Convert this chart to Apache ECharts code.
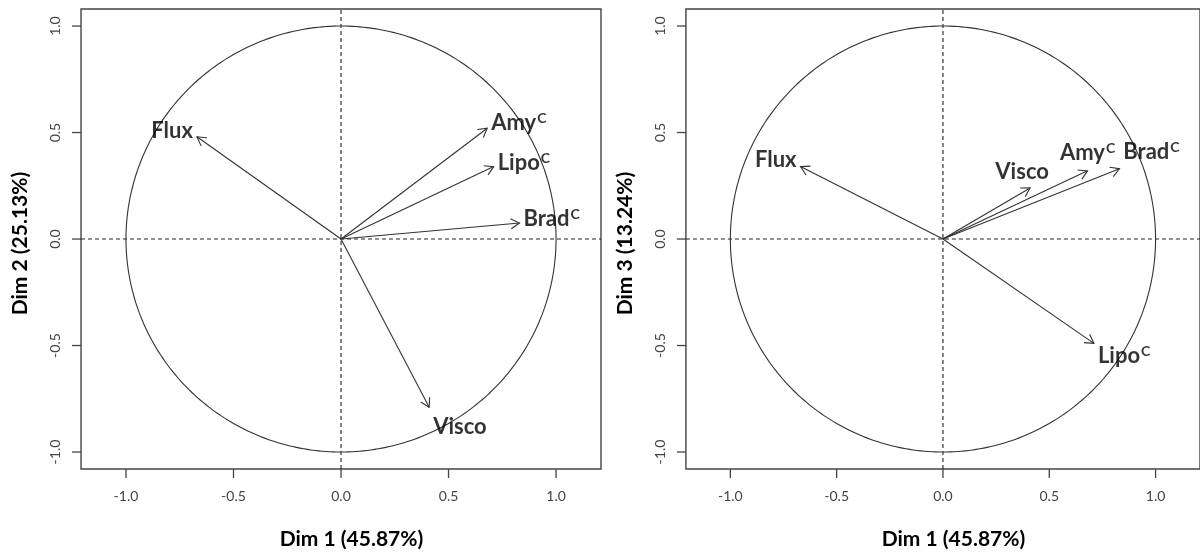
<!DOCTYPE html>
<html><head><meta charset="utf-8">
<script src="https://cdn.jsdelivr.net/npm/echarts@6/dist/echarts.min.js"></script>
<style>html,body{margin:0;padding:0;background:#fff}#c{width:1200px;height:555px}</style>
</head><body><div id="c"></div>
<script>
// ---- data ----
const variables    = ['Flux', 'Amy', 'Lipo', 'Brad', 'Visco'];
const superscripts = ['',     'C',   'C',    'C',    ''];
const dim1 = [-0.67, 0.68, 0.71, 0.83, 0.41];
const dim2 = [ 0.48, 0.52, 0.34, 0.075, -0.79];
const dim3 = [ 0.34, 0.32, -0.49, 0.33, 0.24];
const tickValues = [-1.0, -0.5, 0.0, 0.5, 1.0];
const xTitle = 'Dim 1 (45.87%)';
const yTitles = ['Dim 2 (25.13%)', 'Dim 3 (13.24%)'];
const circleRadius = 1;

// ---- style ----
const FONT = 'Lato, "Open Sans", sans-serif';
// label placement per panel: [position, dx, dy]
const labelPlacement = [
  { Flux: ['left', 0, -6], Amy: ['right', 0, -5], Lipo: ['right', 0, -4], Brad: ['right', 0, -4], Visco: ['right', 0, 20] },
  { Flux: ['left', 0, -7], Amy: ['top', 0, -2], Lipo: ['right', 0, 13], Brad: ['top', 32, -1], Visco: ['top', -8, 0] }
];
const TICK_LEN = 9;
// grid includes a TICK_LEN strip on the left and bottom for the outward ticks
const grids = [
  { left: 72, top: 9, width: 529, height: 469 },
  { left: 677, top: 9, width: 527, height: 470 }
];
const XR = 1.209, YR = 1.08;            // plot box extent (data units)
const XPAD = 0.042, YPAD = 0.042;       // tick strip in data units

function makeAxis(isX, gi, name) {
  return {
    type: 'value', gridIndex: gi,
    min: isX ? -XR - XPAD : -YR - YPAD, max: isX ? XR : YR,
    axisLine: { show: false, onZero: false },
    splitLine: { show: false },
    axisTick: { show: false },
    axisLabel: {
      customValues: tickValues.slice(), formatter: v => v.toFixed(1),
      margin: isX ? 11 : 10, rotate: isX ? 0 : 90,
      fontSize: 14, color: '#444', fontFamily: FONT
    },
    name: name, nameLocation: 'middle', nameGap: isX ? 51 : 41,
    nameTextStyle: { fontWeight: 'bold', fontSize: 21, color: '#000', fontFamily: FONT,
      padding: isX ? [0, 0, 0, 30] : 0 }
  };
}

const series = [];
const panelsY = [dim2, dim3];
panelsY.forEach((dimY, gi) => {
  // outward tick marks, drawn as thin rectangular symbols at the tick values
  series.push({
    type: 'scatter', xAxisIndex: gi, yAxisIndex: gi, silent: true, clip: false, z: 6,
    symbol: 'rect', symbolSize: [1.3, TICK_LEN], symbolOffset: [0, TICK_LEN / 2],
    itemStyle: { color: '#444', opacity: 1 },
    data: tickValues.map(v => [v, -YR])
  });
  series.push({
    type: 'scatter', xAxisIndex: gi, yAxisIndex: gi, silent: true, clip: false, z: 6,
    symbol: 'rect', symbolSize: [TICK_LEN, 1.3], symbolOffset: [-TICK_LEN / 2, 0],
    itemStyle: { color: '#444', opacity: 1 },
    data: tickValues.map(v => [-XR, v])
  });
  // plot box, dashed zero lines and unit circle
  series.push({
    type: 'custom', xAxisIndex: gi, yAxisIndex: gi, silent: true, z: 1,
    data: [[0, 0, circleRadius]],
    renderItem: (params, api) => {
      const children = [];
      const tl = api.coord([-XR, YR]), br = api.coord([XR, -YR]);
      children.push({ type: 'rect', shape: { x: tl[0], y: tl[1], width: br[0] - tl[0], height: br[1] - tl[1] },
        style: { stroke: '#444', lineWidth: 1.4, fill: null } });
      const dashSt = { stroke: '#222', lineWidth: 1.1, lineDash: [4, 3] };
      const v0 = api.coord([0, -YR]), v1 = api.coord([0, YR]);
      const h0 = api.coord([-XR, 0]), h1 = api.coord([XR, 0]);
      children.push({ type: 'line', shape: { x1: v0[0], y1: v0[1], x2: v1[0], y2: v1[1] }, style: dashSt });
      children.push({ type: 'line', shape: { x1: h0[0], y1: h0[1], x2: h1[0], y2: h1[1] }, style: Object.assign({}, dashSt) });
      const r = api.value(2), pts = [];
      for (let i = 0; i <= 360; i++) {
        const t = i * Math.PI / 180;
        pts.push(api.coord([r * Math.cos(t), r * Math.sin(t)]));
      }
      children.push({ type: 'polyline', shape: { points: pts }, style: { stroke: '#333', lineWidth: 1.1, fill: null } });
      return { type: 'group', children: children };
    }
  });
  // arrows
  series.push({
    type: 'custom', xAxisIndex: gi, yAxisIndex: gi, silent: true, z: 2,
    data: variables.map((n, i) => [dim1[i], dimY[i]]),
    renderItem: (params, api) => {
      const p0 = api.coord([0, 0]);
      const p1 = api.coord([api.value(0), api.value(1)]);
      const a = Math.atan2(p1[1] - p0[1], p1[0] - p0[0]);
      const L = 10, w = Math.PI / 6;
      const h1 = [p1[0] - L * Math.cos(a - w), p1[1] - L * Math.sin(a - w)];
      const h2 = [p1[0] - L * Math.cos(a + w), p1[1] - L * Math.sin(a + w)];
      const st = { stroke: '#333', lineWidth: 1.1, fill: null };
      return { type: 'group', children: [
        { type: 'line', shape: { x1: p0[0], y1: p0[1], x2: p1[0], y2: p1[1] }, style: st },
        { type: 'polyline', shape: { points: [h1, p1, h2] }, style: Object.assign({}, st) }
      ] };
    }
  });
  // labels
  series.push({
    type: 'scatter', xAxisIndex: gi, yAxisIndex: gi, silent: true, z: 3,
    symbolSize: 0,
    data: variables.map((n, i) => {
      const pl = labelPlacement[gi][n];
      return {
        name: n, value: [dim1[i], dimY[i]],
        label: { position: pl[0], offset: [pl[1], pl[2]], distance: 4 }
      };
    }),
    label: {
      show: true,
      formatter: p => {
        const sup = superscripts[variables.indexOf(p.name)];
        return '{m|' + p.name + '}' + (sup ? '{s|' + sup + '}' : '');
      },
      rich: {
        m: { fontSize: 22, fontWeight: 'bold', color: '#000', fontFamily: FONT, lineHeight: 24 },
        s: { fontSize: 14, fontWeight: 'bold', color: '#000', fontFamily: FONT, padding: [0, 0, 9, 1], lineHeight: 24 }
      }
    }
  });
});

const option = {
  backgroundColor: '#fff',
  animation: false,
  grid: grids.map(g => Object.assign({ show: false }, g)),
  xAxis: [makeAxis(true, 0, xTitle), makeAxis(true, 1, xTitle)],
  yAxis: [makeAxis(false, 0, yTitles[0]), makeAxis(false, 1, yTitles[1])],
  series: series
};
const chart = echarts.init(document.getElementById('c'), null, { renderer: 'canvas' });
chart.setOption(option);
</script>
</body></html>
